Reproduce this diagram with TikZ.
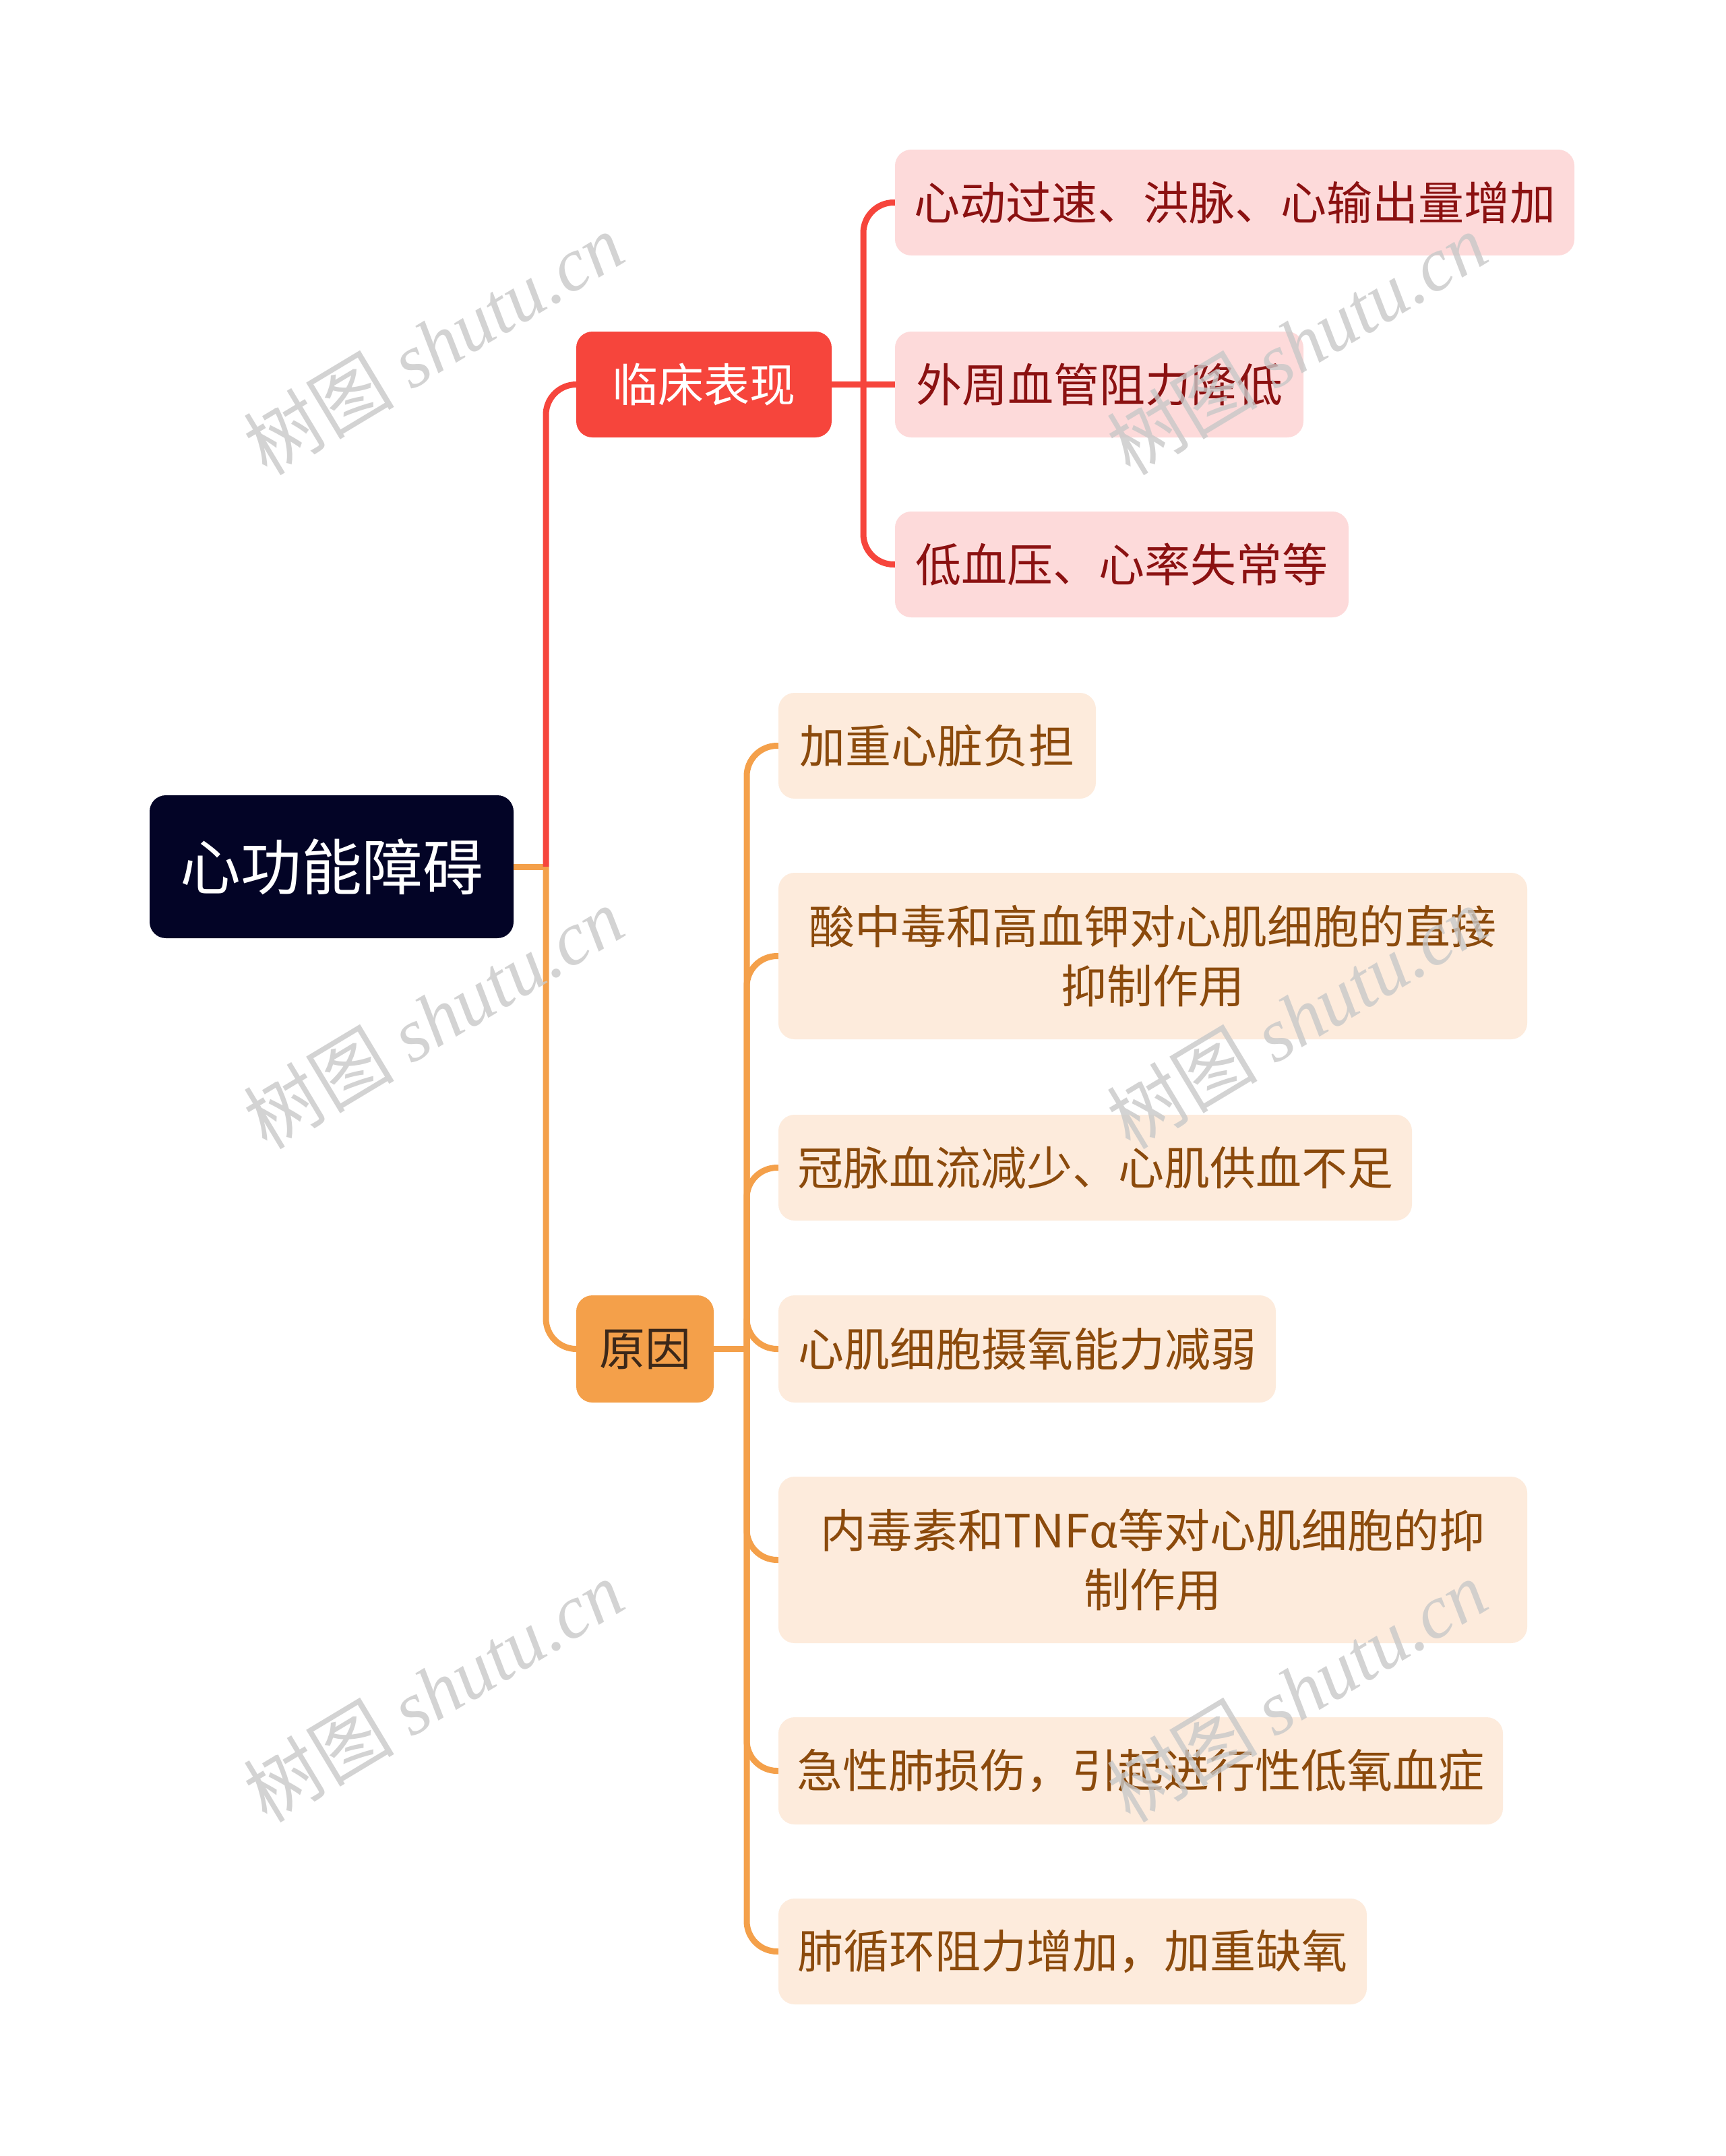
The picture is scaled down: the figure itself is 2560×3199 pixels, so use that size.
\documentclass[tikz,border=0pt]{standalone}
\usepackage{fontspec}
\setmainfont{Noto Sans CJK SC}
\newfontfamily\wmfont{Liberation Serif}
\definecolor{rootfill}{RGB}{3,4,38}
\definecolor{redmain}{RGB}{246,69,60}
\definecolor{redleaf}{RGB}{253,218,218}
\definecolor{redtext}{RGB}{139,17,17}
\definecolor{orgmain}{RGB}{244,160,74}
\definecolor{orgleaf}{RGB}{253,235,220}
\definecolor{orgtext}{RGB}{139,74,12}
\definecolor{orgbranchtext}{RGB}{60,40,25}
\definecolor{wmgrey}{RGB}{200,200,200}
\tikzset{
  box/.style={rectangle, rounded corners=24pt, inner sep=0pt, align=center, font=\fontsize{68}{88}\selectfont},
  rootbox/.style={box, fill=rootfill, text=white, font=\fontsize{90}{100}\selectfont},
  redbranch/.style={box, fill=redmain, text=white},
  orgbranch/.style={box, fill=orgmain, text=orgbranchtext},
  redleafbox/.style={box, fill=redleaf, text=redtext},
  orgleafbox/.style={box, fill=orgleaf, text=orgtext},
  redline/.style={draw=redmain, line width=9pt, rounded corners=45pt},
  orgline/.style={draw=orgmain, line width=9pt, rounded corners=45pt},
  wm/.style={text=wmgrey, opacity=0.8, font=\fontsize{112}{120}\selectfont, inner sep=0pt}
}
\begin{document}
\begin{tikzpicture}[x=1pt,y=-1pt]
\useasboundingbox (0,0) rectangle (2560,3199);
\fill[white] (0,0) rectangle (2560,3199);

% nodes
\node[rootbox, minimum width=540pt, minimum height=212pt] (root) at (492,1286) {心功能障碍};
\node[redbranch, minimum width=379pt, minimum height=157pt] (n1) at (1044.5,570.5) {临床表现};
\node[orgbranch, minimum width=204pt, minimum height=159pt] (n2) at (957,2001.5) {原因};

\node[redleafbox, minimum width=1008pt, minimum height=157pt] (L1) at (1832,300.5) {心动过速、洪脉、心输出量增加};
\node[redleafbox, minimum width=606pt, minimum height=157pt] (L2) at (1631,570.5) {外周血管阻力降低};
\node[redleafbox, minimum width=673pt, minimum height=157pt] (L3) at (1664.5,837.5) {低血压、心率失常等};

\node[orgleafbox, minimum width=471pt, minimum height=157pt] (O1) at (1390.5,1106.5) {加重心脏负担};
\node[orgleafbox, minimum width=1111pt, minimum height=247pt] (O2) at (1710.5,1418.5) {酸中毒和高血钾对心肌细胞的直接\\抑制作用};
\node[orgleafbox, minimum width=940pt, minimum height=157pt] (O3) at (1625,1732.5) {冠脉血流减少、心肌供血不足};
\node[orgleafbox, minimum width=738pt, minimum height=159pt] (O4) at (1524,2001.5) {心肌细胞摄氧能力减弱};
\node[orgleafbox, minimum width=1111pt, minimum height=247pt] (O5) at (1710.5,2314.5) {内毒素和TNFα等对心肌细胞的抑\\制作用};
\node[orgleafbox, minimum width=1075pt, minimum height=159pt] (O6) at (1692.5,2627.5) {急性肺损伤，引起进行性低氧血症};
\node[orgleafbox, minimum width=873pt, minimum height=157pt] (O7) at (1591.5,2895.5) {肺循环阻力增加，加重缺氧};

% junctions
\coordinate (j0) at (810,1286);
\coordinate (j1) at (1281,570.5);
\coordinate (j2) at (1108,2001.5);

% connectors
\draw[orgline] (root.east) -- (j0);
\draw[redline] (j0) |- (n1.west);
\draw[orgline] (j0) |- (n2.west);

\draw[redline] (n1.east) -- (j1);
\draw[redline] (j1) |- (L1.west);
\draw[redline] (j1) -- (L2.west);
\draw[redline] (j1) |- (L3.west);

\draw[orgline] (n2.east) -- (j2);
\foreach \t in {O1,O2,O3,O4,O5,O6,O7}{
  \draw[orgline] (j2) |- (\t.west);
}

% watermarks
\foreach \wx/\wy/\wn in {643/510/w1, 643/1510/w2, 643/2509/w3, 1924/510/w4, 1924/1510/w5, 1924/2509/w6}{
  \node[wm, rotate=31] (\wn) at (\wx,\wy) {树图 {\wmfont\itshape shutu.cn}};
}
\end{tikzpicture}
\end{document}
